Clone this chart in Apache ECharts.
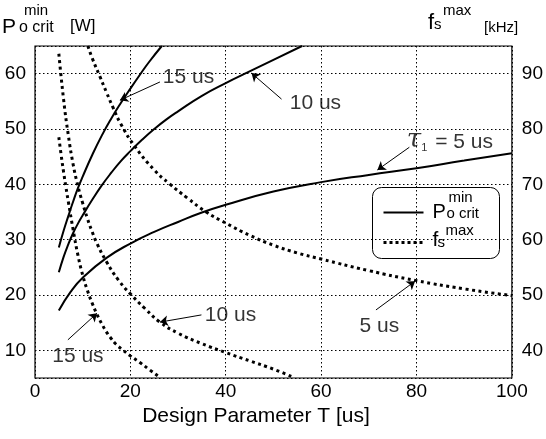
<!DOCTYPE html>
<html>
<head>
<meta charset="utf-8">
<script src="https://cdn.jsdelivr.net/npm/echarts@6/dist/echarts.min.js"></script>
<style>
  html, body { margin: 0; padding: 0; background: #fff; }
  #chart { width: 546px; height: 439px; }
</style>
</head>
<body>
<div id="chart"></div>
<script>
// Design parameter T [us] and minimum critical output power P [W] (left axis)
const tSolid5  = [5, 7.5, 10, 15, 20, 25, 30, 35, 40, 50, 60, 70, 80, 90, 100];
const pSolid5  = [17.2, 20.6, 23.1, 26.7, 29.3, 31.4, 33.2, 34.9, 36.3, 38.7, 40.4, 41.7, 42.9, 44.3, 45.6];

const tSolid10 = [5, 6, 7, 8, 9, 10, 12, 14, 16, 18, 20, 22.5, 25, 27.5, 30, 35, 40, 45, 50, 56];
const pSolid10 = [24.1, 26.9, 29.2, 31.2, 32.9, 34.4, 37.2, 39.8, 42.1, 44.2, 46.0, 48.1, 50.0, 51.7, 53.2, 56.0, 58.3, 60.4, 62.5, 65];

const tSolid15 = [5, 6, 7, 8, 9, 10, 12, 14, 16, 18, 20, 22, 24, 26.6];
const pSolid15 = [28.6, 31.6, 34.3, 36.9, 39.3, 41.4, 45.3, 48.8, 51.9, 54.7, 57.3, 59.8, 62.2, 65];

// Maximum switching frequency f [kHz] (right axis)
const tDot5  = [11.1, 12, 13.6, 15, 16.4, 18, 20.9, 25, 28.2, 32, 35.9, 40, 45, 50, 55, 60, 70, 80, 90, 100];
const fDot5  = [95, 92.8, 89.5, 86.6, 83.8, 80.9, 76.9, 72.6, 70.1, 67.5, 65.0, 63.0, 60.8, 59.0, 57.6, 56.5, 54.4, 52.6, 51.1, 49.9];

const tDot10 = [5, 6, 7, 8, 9, 10, 11, 12, 13, 15, 17.5, 20, 23, 26.2, 30, 35, 40, 45, 50, 54];
const fDot10 = [93.6, 85.3, 78.8, 73.6, 69.7, 66.6, 63.8, 61.4, 59.3, 56.0, 52.7, 50.2, 47.6, 45.1, 43.1, 41.2, 39.6, 38.1, 36.6, 35.2];

const tDot15 = [5, 5.5, 6, 6.5, 7, 8, 9, 10, 11, 12, 13, 14, 15, 16, 17, 18.5, 20, 22, 24, 26.2];
const fDot15 = [78.5, 75.2, 72.2, 69.4, 66.8, 61.8, 57.2, 53.6, 50.8, 48.5, 46.5, 44.8, 43.3, 42.1, 41.1, 40.0, 39.0, 37.8, 36.5, 35.1];

// Axis ticks
const xTicks = [0, 20, 40, 60, 80, 100];
const pTicks = [10, 20, 30, 40, 50, 60];
const fTicks = [40, 50, 60, 70, 80, 90];

const FONT = "'Liberation Sans', Arial, sans-serif";
const zip = (xs, ys) => xs.map((x, i) => [x, ys[i]]);

// Callouts: label position and arrow (from -> tip), in data coordinates of the left axis
const callouts = [
  { text: '15 us', at: [32.2, 59.4], from: [26.2, 58.5], tip: [17.8, 55.2] },
  { text: '10 us', at: [58.8, 54.7], from: [51.7, 55.4], tip: [45.4, 60.1] },
  { text: '{t|τ}{s|1}{n| = 5 us}', at: [87.0, 48.0], from: [78.5, 46.7], tip: [71.8, 42.6] },
  { text: '10 us', at: [41.0, 16.4], from: [34.9, 16.4], tip: [26.2, 15.1] },
  { text: '15 us', at: [9.0, 9.0], from: [6.9, 11.9], tip: [13.0, 16.7] },
  { text: '5 us', at: [72.2, 14.4], from: [71.5, 17.3], tip: [79.7, 22.5] }
];

const solid = (t, p) => ({
  type: 'line', xAxisIndex: 0, yAxisIndex: 0, data: zip(t, p),
  showSymbol: false, smooth: 0.5, silent: true,
  lineStyle: { color: '#000', width: 2 }
});
const dotted = (t, f) => ({
  type: 'line', xAxisIndex: 0, yAxisIndex: 1, data: zip(t, f),
  showSymbol: false, smooth: 0.5, silent: true,
  lineStyle: { color: '#000', width: 3, type: [3, 3.5], cap: 'butt' }
});

const chart = echarts.init(document.getElementById('chart'), null, { renderer: 'canvas' });

const gridDash = { color: '#000', width: 1, type: [1.5, 2.5] };

chart.setOption({
  animation: false,
  backgroundColor: '#fff',
  textStyle: { fontFamily: FONT },
  grid: { left: 35, right: 33, top: 46, bottom: 61, show: true, borderColor: '#000', borderWidth: 1.2, backgroundColor: 'transparent' },
  xAxis: {
    type: 'value', min: xTicks[0], max: xTicks[xTicks.length - 1], interval: 20,
    axisLine: { show: false }, axisTick: { show: false },
    axisLabel: { color: '#000', fontSize: 19, fontFamily: FONT, margin: 4 },
    splitLine: { show: true, lineStyle: gridDash }
  },
  yAxis: [
    {
      type: 'value', min: 5, max: 65, splitNumber: 6, position: 'left',
      axisLine: { show: false }, axisTick: { show: false },
      axisLabel: {
        color: '#000', fontSize: 19, fontFamily: FONT, margin: 9,
        showMinLabel: false, showMaxLabel: false,
        formatter: v => (pTicks.includes(v) ? String(v) : '')
      },
      splitLine: { show: true, lineStyle: gridDash }
    },
    {
      type: 'value', min: 35, max: 95, splitNumber: 6, position: 'right',
      axisLine: { show: false }, axisTick: { show: false },
      axisLabel: {
        color: '#000', fontSize: 19, fontFamily: FONT, margin: 10,
        showMinLabel: false, showMaxLabel: false,
        formatter: v => (fTicks.includes(v) ? String(v) : '')
      },
      splitLine: { show: false }
    }
  ],
  series: [
    solid(tSolid5, pSolid5),
    solid(tSolid10, pSolid10),
    solid(tSolid15, pSolid15),
    dotted(tDot5, fDot5),
    dotted(tDot10, fDot10),
    dotted(tDot15, fDot15),
    {
      type: 'lines', coordinateSystem: 'cartesian2d', xAxisIndex: 0, yAxisIndex: 0, silent: true,
      symbol: ['none', 'arrow'], symbolSize: [0, 8],
      lineStyle: { color: '#000', width: 1, opacity: 1 },
      data: callouts.map(c => ({ coords: [c.from, c.tip] }))
    },
    {
      type: 'scatter', xAxisIndex: 0, yAxisIndex: 0, symbolSize: 0, silent: true,
      data: callouts.map(c => ({ value: c.at, name: c.text })),
      label: {
        show: true, position: 'inside', color: '#000', fontSize: 21, fontFamily: FONT,
        formatter: p => p.name,
        rich: {
          t: { fontSize: 26, fontStyle: 'italic', fontFamily: "'DejaVu Serif', serif", color: '#000', lineHeight: 26, verticalAlign: 'bottom' },
          s: { fontSize: 11, color: '#000', lineHeight: 26, verticalAlign: 'bottom', padding: [0, 2, 0, 0] },
          n: { fontSize: 21, color: '#000', lineHeight: 26, verticalAlign: 'bottom', fontFamily: FONT }
        }
      }
    }
  ],
  graphic: [
    // axis headers
    { type: 'text', left: 2, top: 17, style: { text: 'P', font: `21px ${FONT}`, fill: '#000' } },
    { type: 'text', left: 19, top: 20, style: { text: 'o crit', font: `16px ${FONT}`, fill: '#000' } },
    { type: 'text', left: 24, top: 3, style: { text: 'min', font: `15px ${FONT}`, fill: '#000' } },
    { type: 'text', left: 70, top: 18, style: { text: '[W]', font: `17px ${FONT}`, fill: '#000' } },
    { type: 'text', left: 428, top: 12, style: { text: 'f', font: `22px ${FONT}`, fill: '#000' } },
    { type: 'text', left: 434, top: 17, style: { text: 's', font: `15px ${FONT}`, fill: '#000' } },
    { type: 'text', left: 443, top: 3, style: { text: 'max', font: `15px ${FONT}`, fill: '#000' } },
    { type: 'text', left: 484, top: 20, style: { text: '[kHz]', font: `15px ${FONT}`, fill: '#000' } },
    // x axis title
    { type: 'text', x: 256, y: 416, style: { text: 'Design Parameter T [us]', font: `21px ${FONT}`, fill: '#000', align: 'center', verticalAlign: 'middle' } },
    // legend box
    {
      type: 'group', left: 372, top: 187,
      children: [
        { type: 'rect', shape: { x: 0, y: 0, width: 127, height: 71, r: 9 }, style: { fill: '#fff', stroke: '#000', lineWidth: 1 } },
        { type: 'line', shape: { x1: 11, y1: 25, x2: 51, y2: 25 }, style: { stroke: '#000', lineWidth: 2 } },
        { type: 'line', shape: { x1: 11, y1: 55, x2: 50, y2: 55 }, style: { stroke: '#000', lineWidth: 3, lineDash: [3, 3] } },
        { type: 'text', x: 60, y: 15, style: { text: 'P', font: `20px ${FONT}`, fill: '#000' } },
        { type: 'text', x: 74, y: 19, style: { text: 'o crit', font: `15px ${FONT}`, fill: '#000' } },
        { type: 'text', x: 76, y: 3, style: { text: 'min', font: `15px ${FONT}`, fill: '#000' } },
        { type: 'text', x: 60, y: 42, style: { text: 'f', font: `21px ${FONT}`, fill: '#000' } },
        { type: 'text', x: 65, y: 48, style: { text: 's', font: `15px ${FONT}`, fill: '#000' } },
        { type: 'text', x: 73, y: 36, style: { text: 'max', font: `15px ${FONT}`, fill: '#000' } }
      ]
    }
  ]
});
</script>
</body>
</html>
